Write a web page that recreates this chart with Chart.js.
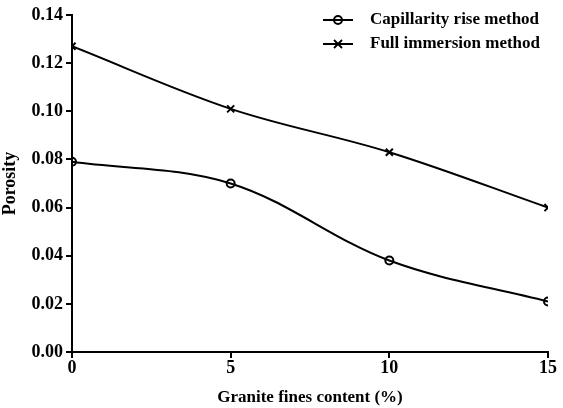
<!DOCTYPE html>
<html><head><meta charset="utf-8">
<script src="https://cdn.jsdelivr.net/npm/chart.js@4/dist/chart.umd.min.js"></script>
<style>html,body{margin:0;padding:0;background:#fff}#wrap{width:563px;height:408px}</style>
</head><body><div id="wrap"><canvas id="c" width="563" height="408"></canvas></div>
<script>
const categories = [0, 5, 10, 15];
const capillarity = [0.079, 0.070, 0.038, 0.021];
const immersion = [0.127, 0.101, 0.083, 0.060];
const seriesNames = ['Capillarity rise method', 'Full immersion method'];
const yTicks = [0, 0.02, 0.04, 0.06, 0.08, 0.10, 0.12, 0.14];

const SERIF = '"Liberation Serif", "Times New Roman", serif';

const legendPlugin = {
  id: 'customLegend',
  afterDraw(chart) {
    const ctx = chart.ctx;
    const x0 = 323, x1 = 353, tx = 370;
    const ys = [20, 44];
    ctx.save();
    chart.data.datasets.forEach((ds, i) => {
      const y = ys[i];
      ctx.strokeStyle = '#000'; ctx.lineWidth = 2;
      ctx.beginPath(); ctx.moveTo(x0, y); ctx.lineTo(x1, y); ctx.stroke();
      const mx = (x0 + x1) / 2;
      if (ds.pointStyle === 'circle') {
        ctx.beginPath(); ctx.arc(mx, y, 4, 0, Math.PI * 2); ctx.fillStyle = '#fff'; ctx.fill(); ctx.stroke();
        ctx.beginPath(); ctx.moveTo(mx - 4, y); ctx.lineTo(mx + 4, y); ctx.stroke();
      } else {
        ctx.lineWidth = 1.8;
        ctx.beginPath(); ctx.moveTo(mx - 4, y - 4); ctx.lineTo(mx + 4, y + 4);
        ctx.moveTo(mx - 4, y + 4); ctx.lineTo(mx + 4, y - 4); ctx.stroke();
      }
      ctx.fillStyle = '#000';
      ctx.font = 'bold 17px ' + SERIF;
      ctx.textBaseline = 'middle'; ctx.textAlign = 'left';
      ctx.fillText(ds.label, tx, y);
    });
    ctx.restore();
  }
};

new Chart(document.getElementById('c'), {
  type: 'line',
  data: {
    datasets: [
      {
        label: seriesNames[0],
        data: categories.map((x, i) => ({x, y: capillarity[i]})),
        borderColor: '#000', borderWidth: 2,
        pointStyle: 'circle', pointRadius: 4, pointBorderWidth: 2,
        pointBackgroundColor: 'rgba(255,255,255,0)', pointBorderColor: '#000',
        tension: 0.35
      },
      {
        label: seriesNames[1],
        data: categories.map((x, i) => ({x, y: immersion[i]})),
        borderColor: '#000', borderWidth: 2,
        pointStyle: 'crossRot', pointRadius: 5, pointBorderWidth: 2,
        pointBorderColor: '#000',
        tension: 0.35
      }
    ]
  },
  options: {
    responsive: false,
    animation: false,
    layout: { padding: { left: 0, top: 15, right: 15, bottom: 0 } },
    plugins: { legend: { display: false }, tooltip: { enabled: false } },
    scales: {
      x: {
        type: 'linear', min: 0, max: 15,
        afterBuildTicks(s) { s.ticks = categories.map(v => ({value: v})); },
        afterFit(s) { s.height = 56; },
        border: { display: true, color: '#000', width: 2 },
        grid: { display: true, drawOnChartArea: false, drawTicks: true, tickLength: 6, color: '#000', lineWidth: 2 },
        ticks: { color: '#000', font: { family: SERIF, size: 18, weight: 'bold' }, padding: 0, maxRotation: 0 },
        title: { display: true, text: 'Granite fines content (%)', color: '#000', font: { family: SERIF, size: 17, weight: 'bold' }, padding: { top: 1, bottom: 0 } }
      },
      y: {
        min: 0, max: 0.14,
        afterBuildTicks(s) { s.ticks = yTicks.map(v => ({value: v})); },
        afterFit(s) { s.width = 72; },
        border: { display: true, color: '#000', width: 2 },
        grid: { display: true, drawOnChartArea: false, drawTicks: true, tickLength: 6, color: '#000', lineWidth: 2 },
        ticks: { color: '#000', font: { family: SERIF, size: 18, weight: 'bold' }, padding: 3,
          callback: v => v.toFixed(2) },
        title: { display: true, text: 'Porosity', color: '#000', font: { family: SERIF, size: 18, weight: 'bold' }, padding: { top: 0, bottom: 0 } }
      }
    }
  },
  plugins: [legendPlugin]
});
</script></body></html>
